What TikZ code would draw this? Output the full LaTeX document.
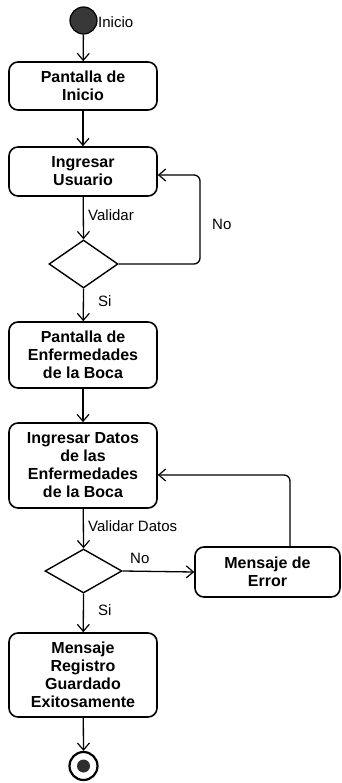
\documentclass[tikz,border=0pt]{standalone}
\usepackage{fontspec}
\setmainfont{Liberation Sans}
\usetikzlibrary{arrows.meta,shapes.geometric}
\tikzset{
  actbox/.style={draw=black, line width=1.6pt, rounded corners=9pt, fill=white,
    minimum width=148pt, align=center, inner sep=2pt,
    font=\fontsize{16}{18}\selectfont\bfseries},
  decis/.style={draw=black, line width=1.4pt, diamond, inner sep=0pt, fill=white},
  flow/.style={draw=black, line width=1.3pt, -{Straight Barb[length=7pt,width=12pt,line width=1.2pt]}},
  lbl/.style={font=\fontsize{15}{17}\selectfont, inner sep=0pt, anchor=west},
}
\begin{document}
\begin{tikzpicture}[x=1pt,y=-1pt]
\useasboundingbox[fill=white] (0,0) rectangle (342,783);

\node[circle, draw=black, line width=1.2pt, fill=black!78, minimum size=27pt, inner sep=0pt] (start) at (83.5,20.5) {};
\node[lbl] (linicio) at (98,22) {Inicio};

\node[actbox, minimum height=48pt] (b1) at (83,86) {Pantalla de\\Inicio};
\node[actbox, minimum height=49pt] (b2) at (83,171.5) {Ingresar\\Usuario};
\node[decis, minimum width=69pt, minimum height=48pt] (d1) at (83.5,264) {};
\node[actbox, minimum height=66pt] (b3) at (83,355) {Pantalla de\\Enfermedades\\de la Boca};
\node[actbox, minimum height=85pt] (b4) at (83,465.5) {Ingresar Datos\\de las\\Enfermedades\\de la Boca};
\node[decis, minimum width=77pt, minimum height=44pt] (d2) at (83.5,571) {};
\node[actbox, minimum width=145pt, minimum height=50pt] (err) at (267.5,572) {Mensaje de\\Error};
\node[actbox, minimum height=84pt] (b5) at (83,675) {Mensaje\\Registro\\Guardado\\Exitosamente};

\node[circle, draw=black, line width=2.2pt, fill=white, minimum size=28pt, inner sep=0pt] (fin) at (83.5,766) {};
\node[circle, fill=black!82, minimum size=13pt, inner sep=0pt] (fininner) at (fin.center) {};

\coordinate (c1) at (200,175);
\coordinate (c2) at (290,475);

\draw[flow] (start) -- (b1);
\draw[flow] (b1) -- (b2);
\draw[flow] (b2) -- (d1.north);
\draw[flow, rounded corners=6pt] (d1.east) -| (c1) -- (c1 -| b2.east);
\draw[flow] (d1.south) -- (b3);
\draw[flow] (b3) -- (b4);
\draw[flow] (b4) -- (d2.north);
\draw[flow] (d2.east) -- (err.west);
\draw[flow, rounded corners=6pt] (c2 |- err.north) -- (c2) -- (c2 -| b4.east);
\draw[flow] (d2.south) -- (b5);
\draw[flow] (b5) -- (fin.north);

\node[lbl] (lval) at (88,215) {Validar};
\node[lbl] (lno1) at (212,224) {No};
\node[lbl] (lsi1) at (98,301) {Si};
\node[lbl] (lvald) at (88,526) {Validar Datos};
\node[lbl] (lno2) at (130,558) {No};
\node[lbl] (lsi2) at (98,610) {Si};
\end{tikzpicture}
\end{document}
